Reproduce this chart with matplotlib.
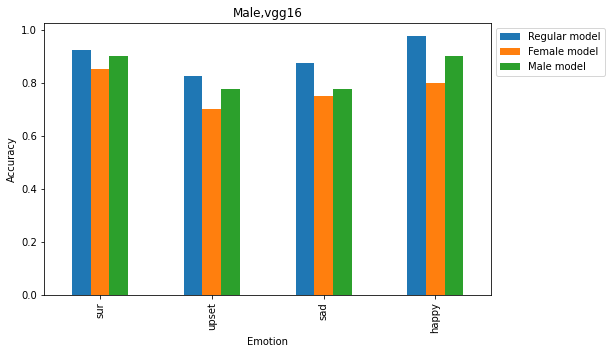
import matplotlib
matplotlib.use("Agg")
import matplotlib.pyplot as plt
import pandas as pd

emotions = ["sur", "upset", "sad", "happy"]
regular_model = [0.925, 0.825, 0.875, 0.975]
female_model = [0.85, 0.70, 0.75, 0.80]
male_model = [0.90, 0.775, 0.775, 0.90]

df = pd.DataFrame(
    {
        "Regular model": regular_model,
        "Female model": female_model,
        "Male model": male_model,
    },
    index=emotions,
)

fig = plt.figure(figsize=(613 / 72, 354 / 72), dpi=72)
ax = fig.add_axes([0.0718, 0.1658, 0.7297, 0.7684])
df.plot(kind="bar", ax=ax)
ax.set_title("Male,vgg16")
ax.set_xlabel("Emotion")
ax.set_ylabel("Accuracy")
ax.legend(loc="upper left", bbox_to_anchor=(1.0, 1.0))

fig.savefig("out.png", dpi=72)
